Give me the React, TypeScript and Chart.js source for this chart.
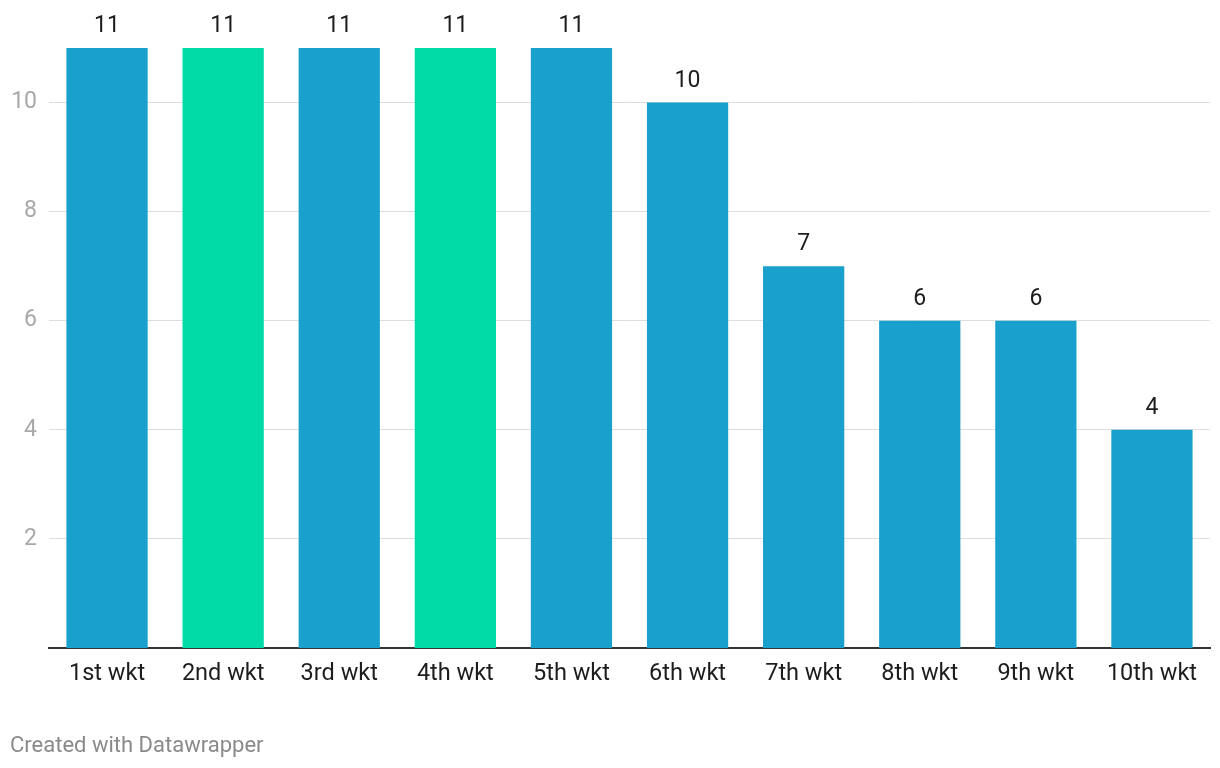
import React, { useEffect, useRef } from "react";
import { Chart, registerables } from "chart.js";

Chart.register(...registerables);

const categories = ["1st wkt", "2nd wkt", "3rd wkt", "4th wkt", "5th wkt", "6th wkt", "7th wkt", "8th wkt", "9th wkt", "10th wkt"];
const values = [11, 11, 11, 11, 11, 10, 7, 6, 6, 4];
const highlighted = [false, true, false, true, false, false, false, false, false, false];
const yTicks = [2, 4, 6, 8, 10];

const BLUE = "#1aa0cc";
const GREEN = "#00dba8";
const FONT = "Roboto, 'Noto Sans', sans-serif";

const valueLabels = {
  id: "valueLabels",
  afterDatasetsDraw(chart: any) {
    const ctx = chart.ctx;
    const meta = chart.getDatasetMeta(0);
    ctx.save();
    ctx.font = `23px ${FONT}`;
    ctx.fillStyle = "#1d1d1d";
    ctx.textAlign = "center";
    ctx.textBaseline = "alphabetic";
    meta.data.forEach((bar: any, i: number) => {
      ctx.fillText(String(values[i]), bar.x, bar.y - 16);
    });
    ctx.restore();
  },
};

export default function App() {
  const ref = useRef<HTMLCanvasElement | null>(null);
  useEffect(() => {
    if (!ref.current) return;
    const chart = new Chart(ref.current, {
      type: "bar",
      data: {
        labels: categories,
        datasets: [
          {
            data: values,
            backgroundColor: highlighted.map((h) => (h ? GREEN : BLUE)),
            barPercentage: 0.7,
            categoryPercentage: 1,
          },
        ],
      },
      options: {
        animation: false,
        responsive: false,
        devicePixelRatio: 1,
        layout: { padding: { top: 48, right: 10, left: 0, bottom: 0 } },
        plugins: { legend: { display: false }, tooltip: { enabled: false } },
        scales: {
          x: {
            grid: { display: false, drawTicks: false },
            border: { display: true, color: "#333333", width: 2 },
            ticks: { color: "#1d1d1d", font: { family: FONT, size: 23.5 }, padding: 12, maxRotation: 0 },
            afterFit: (scale: any) => {
              scale.height = 120;
            },
          },
          y: {
            min: 0,
            max: 11,
            grid: { color: "#dedede", lineWidth: 1, drawTicks: false },
            border: { display: false },
            ticks: { color: "#a8a8a8", font: { family: FONT, size: 23 }, padding: 12 },
            afterBuildTicks: (axis: any) => {
              axis.ticks = yTicks.map((v) => ({ value: v }));
            },
            afterFit: (scale: any) => {
              scale.width = 49;
            },
          },
        },
      },
      plugins: [valueLabels],
    });
    return () => chart.destroy();
  }, []);

  return (
    <div style={{ position: "fixed", left: 0, top: 0, width: 1220, height: 768, background: "#fff" }}>
      <canvas ref={ref} width={1220} height={768} style={{ display: "block" }} />
      <div
        style={{
          position: "absolute",
          left: 10,
          top: 731,
          fontFamily: FONT,
          fontSize: 22,
          color: "#8a8a8a",
          whiteSpace: "nowrap",
          lineHeight: "28px",
        }}
      >
        Created with Datawrapper
      </div>
    </div>
  );
}
